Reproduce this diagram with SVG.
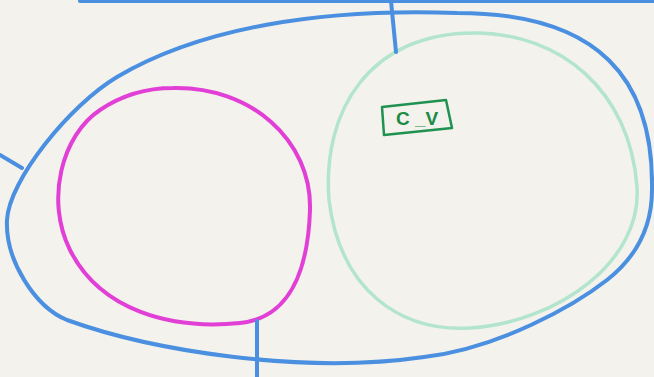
<svg xmlns="http://www.w3.org/2000/svg" width="654" height="377" viewBox="0 0 654 377">
<style>
.blue{fill:none;stroke:#4a8fe0;stroke-width:4;stroke-linecap:round;stroke-linejoin:round}
.mag{fill:none;stroke:#e23fd6;stroke-width:4}
.grn{fill:none;stroke:#b3e5cd;stroke-width:3.5}
.box{fill:none;stroke:#1f9150;stroke-width:2.5;stroke-linejoin:round}
.lbl{font-family:"Liberation Sans",Arial,sans-serif;font-size:19px;font-weight:bold;fill:#1a8a45}
</style>
<rect width="654" height="377" fill="#f3f2ec"/>
<g id="outer">
<path class="blue" d="M 457 13 C 600 13, 654 80, 652 190 C 652 230, 635 258, 607 280 C 575 305, 500 348, 424 357 C 300 375, 150 350, 67 320 C 35 307, 5 260, 7 220 C 9 180, 70 105, 117 77 C 200 28, 320 8, 457 13 Z"/>
</g>
<g id="magenta">
<path class="mag" d="M 173 88 C 250 86, 312 140, 310 210 C 308 270, 290 318, 240 323 C 170 330, 100 310, 70 250 C 45 200, 62 135, 100 110 C 125 93, 150 88, 173 88 Z"/>
</g>
<g id="green">
<path class="grn" d="M 474 33 C 560 33, 630 90, 637 187 C 642 260, 560 322, 470 328 C 400 332, 340 290, 329 200 C 322 110, 370 33, 474 33 Z"/>
</g>
<g id="cv">
<polygon class="box" points="382,107 446,100 452,128 384,135"/>
<text class="lbl" x="417" y="125" text-anchor="middle">C _V</text>
</g>
<g id="connectors">
<line class="blue" x1="80" y1="1" x2="654" y2="1"/>
<line class="blue" x1="391" y1="1" x2="396" y2="52"/>
<line class="blue" x1="0" y1="155" x2="22" y2="168"/>
<line class="blue" x1="257" y1="321" x2="257" y2="377"/>
</g>
</svg>
